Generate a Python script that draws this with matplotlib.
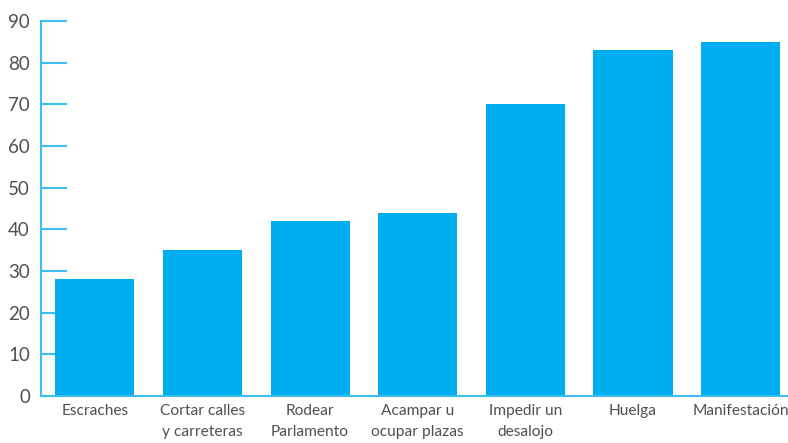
import numpy as np
from matplotlib import pyplot as plt

# data
categories = ['Escraches', 'Cortar calles\ny carreteras', 'Rodear\nParlamento',
              'Acampar u\nocupar plazas', 'Impedir un\ndesalojo', 'Huelga', 'Manifestación']
values = [28, 35, 42, 44, 70, 83, 85]
yticks = [0, 10, 20, 30, 40, 50, 60, 70, 80, 90]

bar_color = '#00AEEF'
line_color = '#3DBDF0'
text_color = '#505050'

plt.rcParams['font.family'] = ['Lato', 'DejaVu Sans']

fig = plt.figure(figsize=(7.88, 4.43), dpi=100)
ax = fig.add_axes([41 / 788, 47 / 443, (788 - 41) / 788, 375 / 443])

index = np.arange(len(categories))
ax.bar(index, values, 0.735, color=bar_color, zorder=2)

ax.set_xlim(-0.5, 6.44)
ax.set_ylim(0, 90)
ax.set_yticks(yticks)
ax.set_xticks(index)
ax.set_xticklabels(categories, fontsize=11.2, color=text_color, linespacing=1.6)
ax.tick_params(axis='x', length=0, pad=6)
ax.tick_params(axis='y', direction='in', length=19, width=1.5, color=line_color,
               labelsize=13.5, labelcolor=text_color, pad=8)

for side in ['top', 'right']:
    ax.spines[side].set_visible(False)
for side in ['left', 'bottom']:
    ax.spines[side].set_color(line_color)
    ax.spines[side].set_linewidth(1.5)

fig.savefig('out.png', dpi=100)
